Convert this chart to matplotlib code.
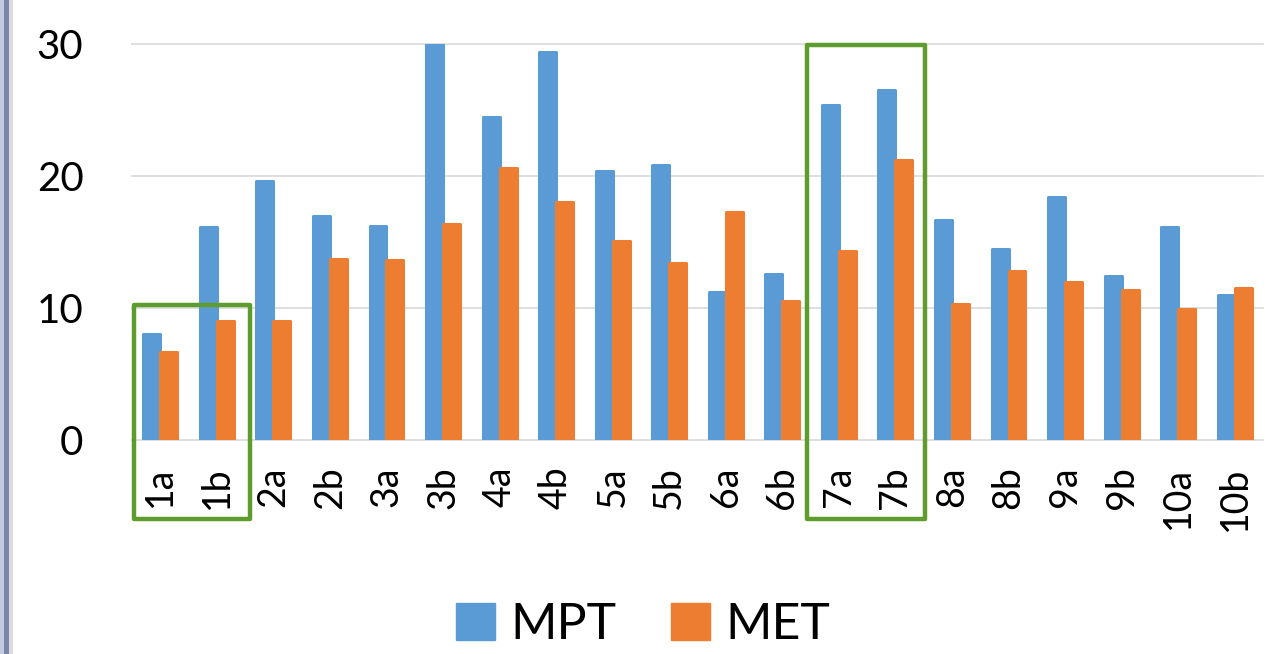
import matplotlib
matplotlib.use("Agg")
import matplotlib.pyplot as plt
from matplotlib.patches import Rectangle, Patch
import numpy as np

plt.rcParams["font.family"] = ["Lato", "DejaVu Sans"]

categories = ["1a", "1b", "2a", "2b", "3a", "3b", "4a", "4b", "5a", "5b",
              "6a", "6b", "7a", "7b", "8a", "8b", "9a", "9b", "10a", "10b"]
mpt = [8.0, 16.1, 19.6, 17.0, 16.2, 31.0, 24.5, 29.4, 20.4, 20.8,
       11.2, 12.6, 25.4, 26.5, 16.7, 14.5, 18.4, 12.4, 16.1, 11.0]
met = [6.7, 9.0, 9.0, 13.7, 13.6, 16.4, 20.6, 18.0, 15.1, 13.4,
       17.3, 10.5, 14.3, 21.2, 10.3, 12.8, 12.0, 11.4, 9.9, 11.5]
series_names = ["MPT", "MET"]
y_ticks = [0, 10, 20, 30]

BLUE = "#5b9bd5"
ORANGE = "#ed7d31"
GREEN = "#5f9c2e"
GRID = "#d9d9d9"

W, H = 1265, 654
fig = plt.figure(figsize=(W / 100, H / 100), dpi=100)
ax = fig.add_axes([132 / W, 1 - 440 / H, (1263 - 132) / W, 396 / H])

x = np.arange(len(categories))
bw = 0.30
ax.bar(x - 0.15, mpt, width=bw, color=BLUE, edgecolor=BLUE, linewidth=2.2,
       joinstyle="round", zorder=2)
ax.bar(x + 0.15, met, width=bw, color=ORANGE, edgecolor=ORANGE, linewidth=2.2,
       joinstyle="round", zorder=3)

ax.set_xlim(-0.5, len(categories) - 0.5)
ax.set_ylim(0, 30)
ax.set_yticks(y_ticks)
ax.set_xticks(x)
ax.set_xticklabels(categories, rotation=90, va="top", ha="center")
ax.tick_params(axis="y", length=0, pad=35, labelsize=29, colors="black")
ax.tick_params(axis="x", length=0, pad=19, labelsize=27, colors="black")
for s in ax.spines.values():
    s.set_visible(False)
for yv in y_ticks:
    ax.axhline(yv, color=GRID, linewidth=1.2, zorder=1, clip_on=False)

# highlight boxes around the 1a/1b and 7a/7b pairs
for (x0, x1, y0, y1) in [(-0.456, 1.578, -5.98, 10.19), (11.43, 13.52, -5.98, 29.96)]:
    ax.add_patch(Rectangle((x0, y0), x1 - x0, y1 - y0, fill=False,
                           edgecolor=GREEN, linewidth=3.2, joinstyle="round",
                           clip_on=False, zorder=5))

handles = [Patch(facecolor=BLUE, edgecolor=BLUE, label=series_names[0]),
           Patch(facecolor=ORANGE, edgecolor=ORANGE, label=series_names[1])]
fig.legend(handles=handles, loc="center", bbox_to_anchor=(643 / W, 1 - 625 / H),
           ncol=2, frameon=False, fontsize=36, handlelength=0.78, handleheight=0.74,
           handletextpad=0.3, columnspacing=1.1)

# window edge strip on the left
for (x0, x1, c) in [(0, 4, "#c4cbe0"), (4, 9.3, "#7d87a8"), (9.3, 13, "#dcdcdc")]:
    fig.add_artist(Rectangle((x0 / W, 0), (x1 - x0) / W, 1, transform=fig.transFigure,
                             facecolor=c, edgecolor="none"))

fig.savefig("out.png", dpi=100)
